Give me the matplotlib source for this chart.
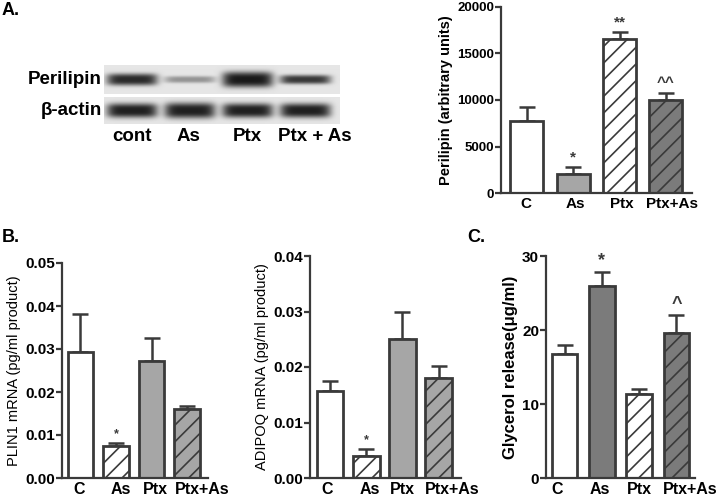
import numpy as np
import matplotlib
matplotlib.use("Agg")
from matplotlib import pyplot as plt

plt.rcParams['font.family'] = ['Liberation Sans', 'DejaVu Sans']
plt.rcParams['hatch.linewidth'] = 1.2

W, H = 719, 501

# ---- data ----
groups = ["C", "As", "Ptx", "Ptx+As"]
lanes = ["cont", "As", "Ptx", "Ptx + As"]

# western blot band strength / thickness (relative)
perilipin_band = [0.92, 0.40, 1.0, 0.85]
perilipin_thick = [0.42, 0.24, 0.55, 0.32]
actin_band = [0.97, 0.97, 0.97, 0.97]
actin_thick = [0.55, 0.60, 0.55, 0.55]

perilipin_au = [7700, 2000, 16600, 10000]
perilipin_au_err = [1600, 800, 700, 800]
perilipin_sig = ["", "*", "**", "^^"]

plin1 = [0.0292, 0.0075, 0.0273, 0.0160]
plin1_err = [0.0090, 0.0006, 0.0052, 0.0008]
plin1_sig = ["", "*", "", ""]

adipoq = [0.0157, 0.0040, 0.0250, 0.0181]
adipoq_err = [0.0018, 0.0012, 0.0049, 0.0020]
adipoq_sig = ["", "*", "", ""]

glycerol = [16.7, 26.0, 11.3, 19.6]
glycerol_err = [1.3, 1.9, 0.7, 2.4]
glycerol_sig = ["", "*", "", "^"]

EDGE = "#3a3a3a"
GRAY = "#a6a6a6"
DGRAY = "#7b7b7b"

fig = plt.figure(figsize=(W / 100, H / 100), dpi=100)


def px_axes(l, t, r, b):
    return fig.add_axes([l / W, 1 - b / H, (r - l) / W, (b - t) / H])


def bar_panel(ax, vals, errs, sig, faces, hatches, xlim, width, ymax, step,
              fmt, ylabel, ybold, ysize, ticksize, catsize, sigsize, labpos):
    x = np.arange(len(vals))
    ax.errorbar(x, vals, yerr=[np.zeros(len(errs)), errs], fmt="none",
                ecolor=EDGE, elinewidth=1.8, capsize=6, capthick=1.8, zorder=1)
    ax.bar(x, vals, width=width, color=faces, edgecolor=EDGE, linewidth=2.0,
           hatch=hatches, zorder=2)
    for xi, v, e, s in zip(x, vals, errs, sig):
        if s:
            ax.text(xi, v + e + ymax * 0.012, s, ha="center", va="bottom",
                    fontsize=sigsize, fontweight="bold", color=EDGE)
    ax.set_xlim(*xlim)
    ax.set_ylim(0, ymax)
    ax.set_yticks(np.arange(0, ymax + step / 2, step))
    ax.yaxis.set_major_formatter(plt.FormatStrFormatter(fmt))
    ax.set_xticks(labpos)
    ax.set_xticklabels(groups, fontsize=catsize, fontweight="bold")
    ax.tick_params(axis="x", length=0, pad=3)
    ax.tick_params(axis="y", length=4, width=1.6, color=EDGE, pad=1,
                   labelsize=ticksize)
    for lab in ax.get_yticklabels():
        lab.set_fontweight("bold")
    for sp in ["top", "right"]:
        ax.spines[sp].set_visible(False)
    for sp in ["left", "bottom"]:
        ax.spines[sp].set_linewidth(1.6)
        ax.spines[sp].set_color(EDGE)
    ax.set_ylabel(ylabel, fontsize=ysize,
                  fontweight="bold" if ybold else "normal", labelpad=3)
    ax.patch.set_alpha(0)


# ---- western blot ----
def blot_image(strength, thick, xl, xr, nx=236, ny=30):
    xs = np.linspace(xl, xr, nx)
    ys = np.linspace(-1, 1, ny)
    img = np.full((ny, nx), 0.90)
    for i, (a, t) in enumerate(zip(strength, thick)):
        prof_x = np.exp(-np.abs((xs - i) / 0.44) ** 6)
        prof_y = np.exp(-np.abs(ys / t) ** 3)
        img -= 0.80 * a * prof_y[:, None] * prof_x[None, :]
    return np.clip(img, 0, 1)


bxl, bxr = -0.48, 3.59
ax_p = px_axes(104, 65, 340, 94)
ax_a = px_axes(104, 97, 340, 124)
for ax, s, t, name in [(ax_p, perilipin_band, perilipin_thick, "Perilipin"),
                       (ax_a, actin_band, actin_thick, "β-actin")]:
    ax.imshow(blot_image(s, t, bxl, bxr), cmap="gray", vmin=0, vmax=1,
              aspect="auto", extent=(bxl, bxr, -1, 1), interpolation="bilinear")
    ax.set_xlim(bxl, bxr)
    ax.set_yticks([])
    ax.set_xticks([])
    for sp in ax.spines.values():
        sp.set_visible(False)
    ax.text(-0.01, 0.5, name, transform=ax.transAxes, ha="right", va="center",
            fontsize=13.5, fontweight="bold")
ax_a.set_xticks([0, 0.97, 2.0, 3.16])
ax_a.set_xticklabels(lanes, fontsize=13.5, fontweight="bold")
ax_a.tick_params(axis="x", length=0, pad=3)

# ---- panel A bar chart ----
axA = px_axes(501, 7, 692, 193)
bar_panel(axA, perilipin_au, perilipin_au_err, perilipin_sig,
          ["white", GRAY, "white", DGRAY], ["", "", "//", "//"],
          (-0.55, 3.56), 0.71, 20000, 5000, "%d",
          "Perilipin (arbitrary units)", True, 10.5, 9.5, 11, 11,
          [-0.01, 1.04, 2.04, 3.13])

# ---- panel B ----
axB1 = px_axes(62, 263, 208, 478)
bar_panel(axB1, plin1, plin1_err, plin1_sig,
          ["white", "white", GRAY, GRAY], ["", "//", "", "//"],
          (-0.52, 3.59), 0.72, 0.05, 0.01, "%.2f",
          "PLIN1 mRNA (pg/ml product)", False, 10.5, 11, 11.5, 9,
          [-0.04, 1.13, 2.1, 3.42])

axB2 = px_axes(310, 256, 461, 478)
bar_panel(axB2, adipoq, adipoq_err, adipoq_sig,
          ["white", "white", GRAY, GRAY], ["", "//", "", "//"],
          (-0.55, 3.62), 0.74, 0.04, 0.01, "%.2f",
          "ADIPOQ mRNA (pg/ml product)", False, 10.5, 11, 11.5, 9,
          [-0.07, 1.09, 2.0, 3.39])

# ---- panel C ----
axC = px_axes(546, 256, 695, 478)
bar_panel(axC, glycerol, glycerol_err, glycerol_sig,
          ["white", DGRAY, "white", DGRAY], ["", "", "//", "//"],
          (-0.50, 3.50), 0.68, 30, 10, "%d",
          "Glycerol release(μg/ml)", True, 12, 11, 11.5, 13,
          [-0.19, 0.95, 2.0, 3.38])

# panel letters
for lbl, x, y in [("A.", 2, 2), ("B.", 2, 229), ("C.", 467, 229)]:
    fig.text(x / W, 1 - y / H, lbl, ha="left", va="top", fontsize=13,
             fontweight="bold")

fig.savefig("out.png", dpi=100)
